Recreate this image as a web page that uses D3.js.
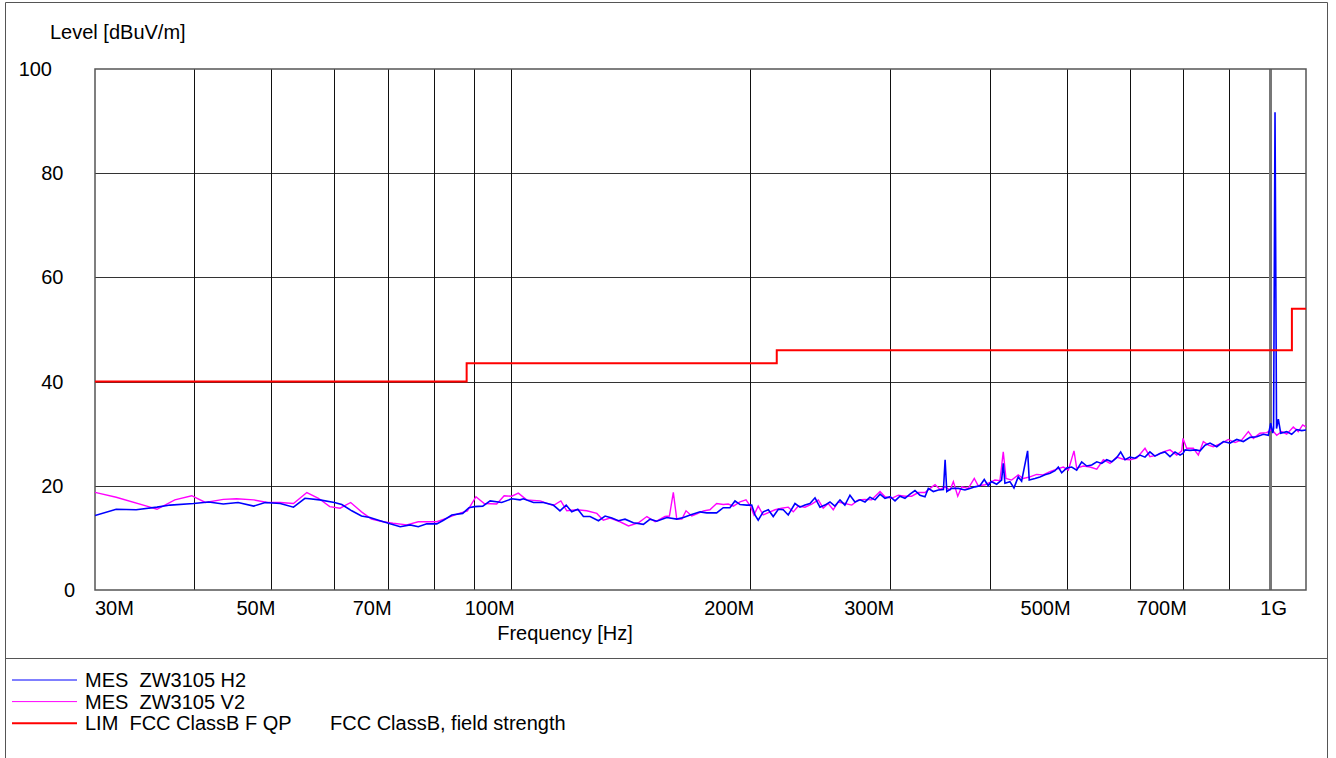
<!DOCTYPE html>
<html>
<head>
<meta charset="utf-8">
<script src="https://cdn.jsdelivr.net/npm/d3@7"></script>
<style>
  body { margin: 0; background: #fff; }
  text { font-family: "Liberation Sans", Arial, sans-serif; font-size: 20px; fill: #000; }
</style>
</head>
<body>
<div id="graph"></div>
<script>
// frequencies in MHz, levels in dBuV/m

var h2Freq = [30.0, 31.9, 33.8, 35.9, 37.3, 39.9, 41.7, 43.5, 45.4, 47.5, 49.1, 51.3, 53.3, 55.1, 57.5,
  60.0, 61.3, 63.1, 64.9, 66.5, 68.5, 70.5, 72.6, 74.7, 76.5, 78.4, 80.7, 82.3, 84.3, 87.0, 88.6,
  90.0, 92.2, 94.2, 97.4, 100.3, 102.7, 103.7, 106.8, 109.9, 113.1, 115.3, 117.4, 119.3, 121.4, 123.4,
  125.8, 128.9, 131.4, 134.0, 136.6, 139.2, 142.6, 146.8, 149.7, 152.6, 157.1, 161.7, 164.9, 168.1,
  173.0, 176.4, 181.5, 185.0, 188.6, 191.4, 194.2, 198.0, 200.9, 202.8, 204.7, 207.7, 210.8, 213.8,
  217.0, 220.1, 223.3, 227.7, 231.0, 234.4, 237.8, 241.3, 244.8, 248.3, 252.0, 255.6, 259.4, 263.1,
  267.0, 270.9, 274.9, 278.9, 282.9, 287.1, 291.3, 295.5, 300.0, 304.2, 308.6, 313.1, 317.7, 322.3,
  327.0, 331.8, 335.0, 339.9, 344.9, 350.0, 351.7, 353.4, 358.6, 365.5, 372.5, 377.9, 383.4, 389.0,
  393.9, 398.5, 402.0, 408.3, 414.2, 416.2, 418.2, 424.3, 429.3, 434.6, 438.9, 446.6, 448.7, 456.2,
  462.8, 469.6, 476.5, 483.5, 488.1, 492.9, 500.0, 507.4, 514.8, 522.3, 530.0, 537.7, 545.6, 553.5,
  561.6, 569.8, 578.0, 584.7, 592.1, 600.7, 609.4, 618.3, 627.4, 636.4, 645.7, 655.1, 664.7, 674.5,
  684.4, 694.4, 700.4, 704.5, 714.7, 727.0, 735.8, 746.5, 757.4, 772.3, 787.2, 802.5, 818.3, 834.1,
  850.4, 867.1, 883.7, 896.6, 902.9, 908.1, 910.4, 914.2, 918.2, 923.0, 929.4, 945.6, 959.4, 973.5,
  987.6, 1000];
var h2Level = [14.3, 15.5, 15.4, 15.9, 16.3, 16.6, 16.9, 16.5, 16.8, 16.1, 16.8, 16.6, 15.9, 17.6, 17.3,
  16.8, 16.4, 15.2, 14.2, 13.9, 13.3, 12.7, 12.15, 12.5, 12.15, 12.7, 12.7, 13.4, 14.4, 14.7, 15.8,
  16.0, 16.1, 17.1, 16.8, 17.5, 17.3, 17.5, 16.8, 16.8, 16.3, 15.2, 16.3, 15.0, 15.5, 14.1,
  14.1, 13.3, 14.2, 13.8, 13.3, 13.6, 12.9, 12.6, 13.6, 13.2, 13.9, 13.6, 13.9, 14.4,
  15.0, 14.8, 14.8, 15.8, 15.8, 17.1, 16.4, 16.3, 16.3, 14.4, 13.4, 15.0, 15.4, 14.1,
  15.5, 15.4, 14.4, 16.6, 15.9, 16.3, 16.6, 17.7, 15.9, 16.3, 16.9, 16.1, 17.3, 16.3,
  18.2, 16.9, 17.3, 16.9, 17.8, 17.3, 18.4, 17.6, 17.9, 17.1, 18.0, 17.6, 18.4, 19.1,
  18.2, 17.9, 19.5, 18.9, 19.2, 19.3, 25.0, 18.9, 19.5, 19.5, 19.2, 19.5, 19.8, 20.0,
  21.2, 20.0, 20.8, 20.3, 21.1, 24.3, 20.5, 20.8, 19.6, 21.7, 20.9, 26.7, 21.1, 21.4,
  21.7, 22.1, 22.4, 22.9, 23.6, 22.5, 23.4, 23.6, 23.0, 24.6, 23.8, 24.0, 24.6, 24.3,
  25.0, 24.6, 25.4, 26.5, 25.0, 25.5, 25.3, 25.9, 25.5, 26.5, 25.7, 26.2, 26.5, 25.6,
  26.5, 25.9, 26.2, 26.9, 26.8, 26.9, 26.7, 27.8, 28.2, 27.5, 28.5, 28.2, 28.9, 28.5,
  29.3, 29.4, 29.9, 29.7, 32.0, 30.1, 31.0, 91.7, 31.0, 32.8, 30.1, 30.4, 29.9, 30.8,
  30.6, 30.7];

var v2Freq = [30.0, 31.9, 35.2, 35.9, 37.8, 39.7, 41.3, 43.5, 45.2, 47.5, 49.4, 51.3, 53.3, 55.4, 57.3,
  59.2, 61.0, 62.9, 64.9, 66.8, 69.1, 71.1, 74.0, 76.5, 80.7, 83.1, 85.7, 88.2, 90.4, 92.6, 96.0,
  98.1, 100.3, 102.2, 104.7, 108.9, 113.1, 115.6, 117.6, 121.1, 124.6, 128.3, 130.7, 133.3, 137.2,
  140.6, 144.7, 148.3, 151.9, 156.3, 158.3, 160.1, 161.7, 164.1, 166.1, 168.9, 171.4, 174.7, 178.0,
  181.5, 185.0, 187.7, 190.5, 194.2, 197.6, 200.3, 202.2, 204.7, 207.7, 214.9, 219.1, 223.3, 226.6,
  229.9, 234.4, 239.0, 243.6, 247.1, 250.7, 254.4, 258.1, 263.1, 268.4, 273.5, 278.9, 284.3, 291.3,
  295.5, 301.3, 307.1, 313.1, 319.2, 325.4, 331.8, 336.7, 341.6, 346.6, 351.7, 356.7, 360.2, 364.8,
  369.0, 376.1, 382.7, 387.1, 394.7, 402.4, 406.3, 412.2, 416.2, 419.5, 426.4, 434.6, 441.0, 449.6,
  458.4, 467.2, 476.5, 485.9, 495.2, 502.5, 510.8, 514.8, 524.8, 535.1, 545.6, 556.1, 567.0, 578.0,
  589.2, 600.7, 612.5, 627.4, 636.4, 649.5, 661.4, 674.5, 687.7, 697.8, 700.4, 707.9, 721.6, 732.2,
  742.8, 753.7, 764.6, 783.5, 798.6, 814.3, 830.2, 846.3, 858.6, 875.3, 892.5, 905.5, 918.6, 932.1,
  945.6, 963.9, 977.9, 990.5, 1000];
var v2Level = [18.75, 17.8, 15.9, 15.5, 17.3, 18.1, 16.8, 17.4, 17.5, 17.3, 16.8, 16.8, 16.6, 18.7, 17.6,
  16.0, 15.7, 16.8, 15.0, 13.6, 13.1, 12.8, 12.5, 13.1, 13.1, 13.8, 14.6, 15.2, 17.9, 16.6, 16.5,
  18.1, 18.0, 18.6, 17.3, 17.1, 16.2, 17.1, 15.2, 15.4, 15.2, 14.7, 13.4, 13.8, 13.1,
  12.3, 12.9, 14.1, 13.1, 14.1, 14.2, 18.75, 13.6, 13.6, 15.2, 14.2, 14.6, 15.2, 15.4,
  16.6, 16.4, 16.5, 16.1, 16.9, 17.3, 16.0, 14.4, 16.1, 14.4, 15.4, 15.7, 15.9, 15.0,
  16.1, 15.9, 16.5, 17.3, 15.7, 16.6, 15.4, 16.9, 16.6, 16.3, 17.3, 17.4, 17.3, 18.9,
  17.9, 17.6, 18.2, 18.0, 18.0, 18.7, 18.7, 19.5, 20.2, 19.3, 19.8, 19.2, 20.8, 18.0,
  19.8, 19.5, 21.4, 20.0, 20.2, 20.8, 21.1, 21.0, 26.5, 21.4, 21.1, 22.1, 21.4, 21.7,
  22.2, 22.1, 22.7, 23.2, 23.6, 23.0, 26.7, 23.4, 23.8, 23.6, 23.2, 25.0, 24.3, 25.5,
  25.1, 25.0, 25.3, 27.2, 25.6, 25.9, 26.5, 26.9, 25.9, 26.7, 29.1, 27.2, 27.2, 25.9,
  28.5, 27.8, 27.5, 28.2, 28.9, 28.3, 28.8, 30.4, 29.1, 30.1, 30.2, 30.8, 29.7, 30.4,
  29.9, 31.3, 30.4, 31.7, 31.3];

// FCC class B field strength limit (steps)
var limitFreq = [30, 88, 88, 216, 216, 960, 960, 1000];
var limitLevel = [40, 40, 43.5, 43.5, 46, 46, 54, 54];

var gridFreqs = [40, 50, 60, 70, 80, 90, 100, 200, 300, 400, 500, 600, 700, 800, 900];
var xTickValues = [30, 50, 70, 100, 200, 300, 500, 700, 1000];
var xTickLabels = ["30M", "50M", "70M", "100M", "200M", "300M", "500M", "700M", "1G"];
var yTicks = [0, 20, 40, 60, 80, 100];

var legendNames = ["MES  ZW3105 H2", "MES  ZW3105 V2", "LIM  FCC ClassB F QP"];
var legendColors = ["#0000ff", "#ff00ff", "#ff0000"];
var limitDescription = "FCC ClassB, field strength";

var svg = d3.select("#graph").append("svg")
	.attr("width", 1336)
	.attr("height", 758);

svg.append("rect").attr("width", 1336).attr("height", 758).attr("fill", "#fff");

// outer page frame
svg.append("path")
	.attr("d", "M5.5,758 V2.5 H1327.5 V758")
	.attr("fill", "none").attr("stroke", "#555").attr("stroke-width", 1);
svg.append("line")
	.attr("x1", 5).attr("x2", 1328).attr("y1", 658.5).attr("y2", 658.5)
	.attr("stroke", "#555").attr("stroke-width", 1);

var x = d3.scaleLog().domain([30, 1000]).range([95, 1306]);
var y = d3.scaleLinear().domain([0, 100]).range([590, 69]);

// grid
svg.selectAll("line.hgrid")
	.data(yTicks.slice(1, -1))
	.enter().append("line")
		.attr("class", "hgrid")
		.attr("x1", 95).attr("x2", 1306)
		.attr("y1", function(d) { return Math.round(y(d)) + 0.5; })
		.attr("y2", function(d) { return Math.round(y(d)) + 0.5; })
		.attr("stroke", "#333").attr("stroke-width", 1);

svg.selectAll("line.vgrid")
	.data(gridFreqs)
	.enter().append("line")
		.attr("class", "vgrid")
		.attr("x1", function(d) { return Math.round(x(d)) + 0.5; })
		.attr("x2", function(d) { return Math.round(x(d)) + 0.5; })
		.attr("y1", 69).attr("y2", 590)
		.attr("stroke", function(d) { return d == 900 ? "#777" : "#111"; })
		.attr("stroke-width", function(d) { return d == 900 ? 3 : 1; });

svg.append("rect")
	.attr("x", 95).attr("y", 69).attr("width", 1211).attr("height", 521)
	.attr("fill", "none").attr("stroke", "#555").attr("stroke-width", 1.5);

// axis labels
svg.selectAll("text.ylab")
	.data(yTicks)
	.enter().append("text")
		.attr("class", "ylab")
		.attr("text-anchor", "end")
		.attr("x", function(d) { return 75 - 11.5 * (String(d).length - 1); })
		.attr("y", function(d) { return y(d) + 7; })
		.text(function(d) { return d; });

svg.selectAll("text.xlab")
	.data(xTickValues)
	.enter().append("text")
		.attr("class", "xlab")
		.attr("text-anchor", function(d) { return d == 30 ? "start" : "end"; })
		.attr("x", function(d) {
			if (d == 30) return 95;
			if (d == 1000) return 1287;
			return x(d) + 4;
		})
		.attr("y", 615)
		.text(function(d, i) { return xTickLabels[i]; });

svg.append("text").attr("x", 50).attr("y", 39).text("Level [dBuV/m]");
svg.append("text").attr("x", 565).attr("y", 640).attr("text-anchor", "middle").text("Frequency [Hz]");

// traces
svg.append("clipPath").attr("id", "plotClip")
	.append("rect").attr("x", 95).attr("y", 69).attr("width", 1211).attr("height", 521);

var line = d3.line()
	.x(function(d) { return x(d[0]); })
	.y(function(d) { return y(d[1]); });

var plot = svg.append("g").attr("clip-path", "url(#plotClip)");

plot.append("path")
	.datum(d3.zip(v2Freq, v2Level))
	.attr("d", line)
	.attr("fill", "none").attr("stroke", "#ff00ff").attr("stroke-width", 1.4);

plot.append("path")
	.datum(d3.zip(h2Freq, h2Level))
	.attr("d", line)
	.attr("fill", "none").attr("stroke", "#0000ff").attr("stroke-width", 1.6);

plot.append("path")
	.datum(d3.zip(limitFreq, limitLevel))
	.attr("d", line)
	.attr("fill", "none").attr("stroke", "#ff0000").attr("stroke-width", 2);

// legend
var legend = svg.selectAll("g.legend")
	.data(legendNames)
	.enter().append("g")
		.attr("class", "legend")
		.attr("transform", function(d, i) { return "translate(0," + (680 + i * 21.6) + ")"; });

legend.append("line")
	.attr("x1", 12).attr("x2", 77).attr("y1", 0).attr("y2", 0)
	.attr("stroke", function(d, i) { return legendColors[i]; })
	.attr("stroke-width", function(d, i) { return i == 2 ? 2 : 1; });

legend.append("text")
	.attr("x", 85).attr("y", 7)
	.style("white-space", "pre")
	.text(function(d) { return d; });

svg.append("text").attr("x", 330).attr("y", 680 + 2 * 21.6 + 7).text(limitDescription);
</script>
</body>
</html>
